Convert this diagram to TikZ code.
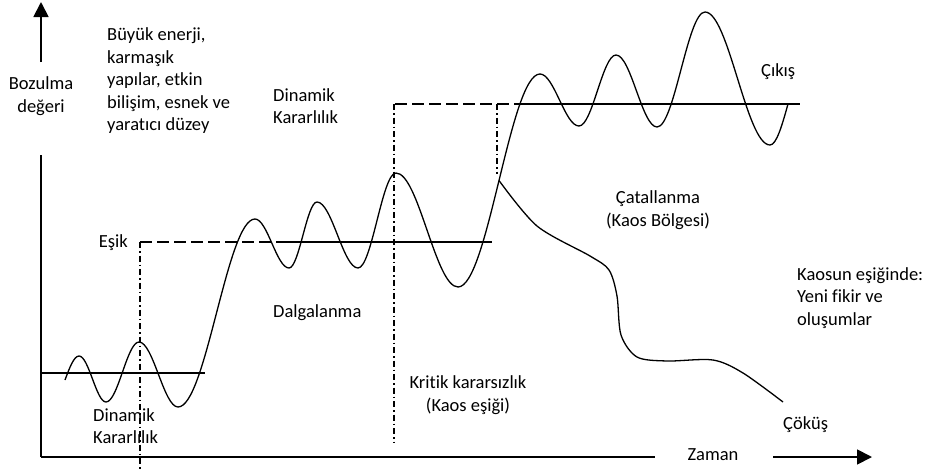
\documentclass[tikz,border=0pt]{standalone}
\usepackage{fontspec}
\setmainfont{Carlito}[Ligatures=NoCommon]
\usetikzlibrary{arrows.meta,positioning}

\tikzset{
  lbl/.style={font=\fontsize{18.5}{22.5}\selectfont, inner sep=0pt},
  axis/.style={line width=1.8pt},
  curve/.style={line width=1.3pt, line join=round},
  level/.style={line width=1.3pt},
  guide/.style={line width=1.3pt, dash pattern=on 12pt off 5pt},
  marker/.style={line width=1.2pt, dash pattern=on 6pt off 3pt on 1.5pt off 3pt}
}

\begin{document}
\begin{tikzpicture}[x=1pt, y=-1pt]
  \useasboundingbox (0,0) rectangle (926,471);

  % Axes
  \coordinate (O) at (41,457);
  \coordinate (ybrk1) at (41,155);
  \coordinate (ybrk2) at (41,62);
  \coordinate (ytip) at (41,2);
  \coordinate (xbrk1) at (655,457);
  \coordinate (xbrk2) at (773,457);
  \coordinate (xtip) at (872,457);
  \draw[axis] (O) -- (ybrk1);
  \draw[axis, -{Triangle[length=15pt, width=15pt]}] (ybrk2) -- (ytip);
  \draw[axis] (O) -- (xbrk1);
  \draw[axis, -{Triangle[length=15pt, width=15pt]}] (xbrk2) -- (xtip);
  \node[lbl, align=center] (ylab) at (41,96) {Bozulma\\değeri};
  \node[lbl] (xlab) at (713,455) {Zaman};

  % Levels
  \draw[level] (41,373) -- (205,373);
  \draw[guide] (140,242) -- (282,242);
  \draw[level] (282,242) -- (492,242);
  \draw[guide] (395,104) -- (520,104);
  \draw[level] (520,104) -- (800,104);

  % Markers
  \draw[marker] (140,242) -- (140,470);
  \draw[marker] (394,104) -- (394,443);
  \draw[marker] (497,104) -- (497,174);

  % Main curve
  \draw[curve] (65,380) sin (79,356) cos (92.5,379) sin (106,402) cos (122.5,372)
    sin (139,342) cos (158.5,374.5) sin (178,407) cos (216.5,313) sin (255,219)
    cos (272,243.5) sin (289,268) cos (303,235) sin (317,202) cos (337.5,235)
    sin (358,268) cos (377,220.5) sin (396,173) cos (427,230) sin (458,287)
    cos (499,180.5) sin (540,74) cos (559.5,100) sin (579,126) cos (597.5,90.5)
    sin (616,55) cos (636.5,91) sin (657,127) cos (681,69.5) sin (705,12)
    cos (737.5,78.5) sin (770,145) cos (788,104);

  % Collapse branch
  \coordinate (fork) at (499,180.5);
  \draw[curve] plot[smooth] coordinates {(fork) (537,226) (590,256) (609,270) (617,296) (621,335) (637,357) (667,361) (713,360) (743,373) (783,402)};

  % Labels
  \node[lbl, align=left, anchor=west] (energy) at (107,81) {Büyük enerji,\\karmaşık\\yapılar, etkin\\bilişim, esnek ve\\yaratıcı düzey};
  \node[lbl, align=left, anchor=west] (stabhi) at (273,106) {Dinamik\\Kararlılık};
  \node[lbl, anchor=east] (thresh) at (128,243) {Eşik};
  \node[lbl, anchor=west] (wave) at (273,313) {Dalgalanma};
  \node[lbl, align=center] (crit) at (468,395) {Kritik kararsızlık\\(Kaos eşiği)};
  \node[lbl, align=center] (bifur) at (658,210) {Çatallanma\\(Kaos Bölgesi)};
  \node[lbl, anchor=west] (exit) at (761,72) {Çıkış};
  \node[lbl, align=left, anchor=west] (edge) at (797,298) {Kaosun eşiğinde:\\Yeni fikir ve\\oluşumlar};
  \node[lbl, anchor=west] (fall) at (783,425) {Çöküş};
  \node[lbl, align=left, anchor=west] (stablo) at (93,426) {Dinamik\\Kararlılık};
\end{tikzpicture}
\end{document}
